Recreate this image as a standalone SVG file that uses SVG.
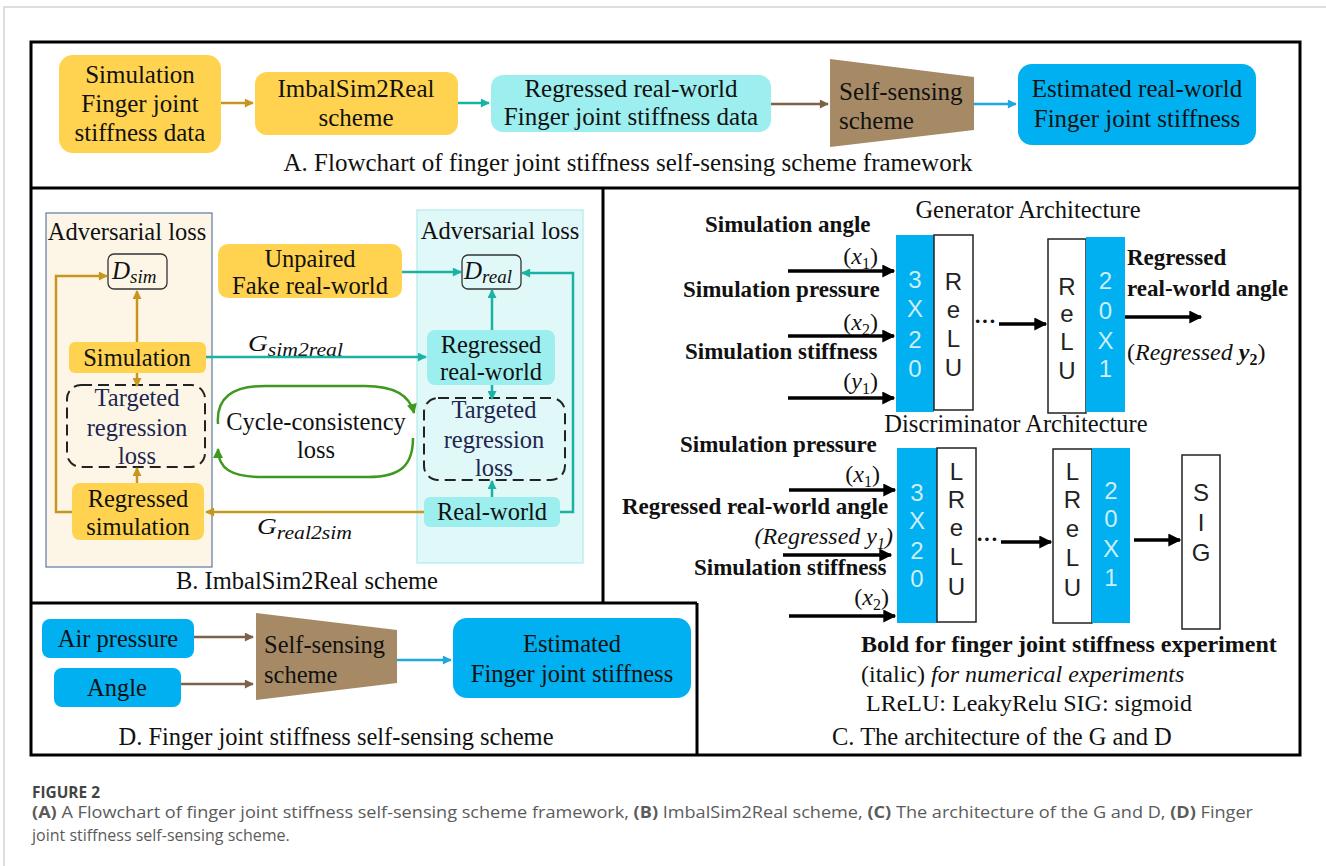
<svg xmlns="http://www.w3.org/2000/svg" width="1326" height="866" viewBox="0 0 1326 866" font-family="'Liberation Serif','Times New Roman',serif">
<defs>
<style>
text{font-family:"Liberation Serif","Times New Roman",serif;fill:#111}
.a{font-size:25px}
.b{font-size:24.5px}
.c{font-size:23px;font-weight:bold}
.it{font-style:italic}
.mid{text-anchor:middle}
.end{text-anchor:end}
.yel{fill:#FFD34F}
.cyl{fill:#9CEFEE}
.blu{fill:#00B0F0}
.brn{fill:#A68A65}
.frame{fill:none;stroke:#000;stroke-width:3}
.gold{stroke:#C8961E;stroke-width:2.5;fill:none}
.teal{stroke:#1AB3A3;stroke-width:2.5;fill:none}
.brw{stroke:#7B6249;stroke-width:2.5;fill:none}
.bl{stroke:#1EA8DF;stroke-width:2.5;fill:none}
.grn{stroke:#3E9A1F;stroke-width:2.5;fill:none}
.blk{stroke:#000;stroke-width:3.5;fill:none}
.dash{fill:none;stroke:#222;stroke-width:2;stroke-dasharray:11 6}
.navy{fill:#1E2650}
.vch{font-family:"Liberation Sans",Arial,sans-serif;font-size:24px;fill:#CDEEFB;text-anchor:middle}
.vbk{font-family:"Liberation Sans",Arial,sans-serif;font-size:24px;fill:#222;text-anchor:middle}
.wbox{fill:#fff;stroke:#222;stroke-width:1.5}
.dbox{fill:none;stroke:#333;stroke-width:1.3}
.cap{font-family:"Open Sans","Noto Sans",sans-serif;fill:#5b5b5b;font-size:16px}
</style>
<marker id="mg" viewBox="0 0 10 10" refX="9" refY="5" markerWidth="10" markerHeight="9" orient="auto" markerUnits="userSpaceOnUse"><path d="M0,0 L10,5 L0,10 z" fill="#C8961E"/></marker>
<marker id="mt" viewBox="0 0 10 10" refX="9" refY="5" markerWidth="10" markerHeight="9" orient="auto" markerUnits="userSpaceOnUse"><path d="M0,0 L10,5 L0,10 z" fill="#1AB3A3"/></marker>
<marker id="mb" viewBox="0 0 10 10" refX="9" refY="5" markerWidth="10" markerHeight="9" orient="auto" markerUnits="userSpaceOnUse"><path d="M0,0 L10,5 L0,10 z" fill="#7B6249"/></marker>
<marker id="ml" viewBox="0 0 10 10" refX="9" refY="5" markerWidth="10" markerHeight="9" orient="auto" markerUnits="userSpaceOnUse"><path d="M0,0 L10,5 L0,10 z" fill="#1EA8DF"/></marker>
<marker id="mgr" viewBox="0 0 10 10" refX="9" refY="5" markerWidth="11" markerHeight="10" orient="auto" markerUnits="userSpaceOnUse"><path d="M0,0 L10,5 L0,10 z" fill="#3E9A1F"/></marker>
<marker id="mk" viewBox="0 0 10 10" refX="9" refY="5" markerWidth="14" markerHeight="13" orient="auto" markerUnits="userSpaceOnUse"><path d="M0,0 L10,5 L0,10 z" fill="#000"/></marker>
</defs>

<rect width="1326" height="866" fill="#fff"/>
<path d="M4,866 V7 H1326" fill="none" stroke="#d4d4d4" stroke-width="1.5"/>

<g id="frames">
<rect class="frame" x="31" y="42" width="1269" height="713"/>
<line class="frame" x1="31" y1="188" x2="1300" y2="188"/>
<line class="frame" x1="603" y1="188" x2="603" y2="603"/>
<line class="frame" x1="31" y1="603" x2="697" y2="603"/>
<line class="frame" x1="697" y1="603" x2="697" y2="755"/>
</g>

<!-- Section A -->
<g id="a-sim">
<rect class="yel" x="59" y="55" width="162" height="98" rx="14"/>
<text class="a mid" x="140" y="83">Simulation</text>
<text class="a mid" x="140" y="112">Finger joint</text>
<text class="a mid" x="140" y="141">stiffness data</text>
</g>
<g id="a-imbal">
<rect class="yel" x="255" y="72" width="203" height="63" rx="12"/>
<text class="a mid" x="356" y="97">ImbalSim2Real</text>
<text class="a mid" x="356" y="126">scheme</text>
</g>
<g id="a-regressed">
<rect class="cyl" x="491" y="75" width="280" height="57" rx="12"/>
<text class="a mid" x="631" y="97">Regressed real-world</text>
<text class="a mid" x="631" y="125">Finger joint stiffness data</text>
</g>
<g id="a-selfsensing">
<polygon class="brn" points="830,59 974,77 974,130 830,147"/>
<text class="a" x="839" y="100">Self-sensing</text>
<text class="a" x="839" y="129">scheme</text>
</g>
<g id="a-estimated">
<rect class="blu" x="1018" y="64" width="238" height="81" rx="14"/>
<text class="a mid" x="1137" y="97">Estimated real-world</text>
<text class="a mid" x="1137" y="127">Finger joint stiffness</text>
</g>
<text class="a mid" x="628" y="171">A. Flowchart of finger joint stiffness self-sensing scheme framework</text>

<!-- Section B -->
<g id="b-left-panel">
<rect x="46" y="213" width="166" height="354" fill="#FDF6E6" stroke="#5B7BA3" stroke-width="1.2"/>
<text class="b mid" x="127" y="240">Adversarial loss</text>
</g>
<g id="b-right-panel">
<rect x="417" y="210" width="166" height="353" fill="#E1F8F8" stroke="#B0ECEC" stroke-width="1.2"/>
<text class="b mid" x="500" y="239">Adversarial loss</text>
</g>
<g id="b-dsim">
<rect class="dbox" x="108" y="254" width="59" height="35" rx="6"/>
<text x="112" y="279" font-size="25" class="it">D<tspan font-size="19" dy="4">sim</tspan></text>
</g>
<g id="b-simulation">
<rect class="yel" x="69" y="342" width="137" height="31" rx="6"/>
<text class="b mid" x="137" y="366">Simulation</text>
</g>
<g id="b-trl-left">
<rect class="dash" x="67" y="385" width="138" height="82" rx="14"/>
<text class="b mid navy" x="137" y="406">Targeted</text>
<text class="b mid navy" x="137" y="436">regression</text>
<text class="b mid navy" x="137" y="464">loss</text>
</g>
<g id="b-regsim">
<rect class="yel" x="72" y="483" width="132" height="57" rx="8"/>
<text class="b mid" x="138" y="507">Regressed</text>
<text class="b mid" x="138" y="535">simulation</text>
</g>
<g id="b-unpaired">
<rect class="yel" x="218" y="244" width="184" height="54" rx="10"/>
<text class="b mid" x="310" y="267">Unpaired</text>
<text class="b mid" x="310" y="294">Fake real-world</text>
</g>
<g id="b-dreal">
<rect class="dbox" x="462" y="255" width="59" height="34" rx="6"/>
<text x="464" y="279" font-size="25" class="it">D<tspan font-size="19" dy="4">real</tspan></text>
</g>
<g id="b-regreal">
<rect class="cyl" x="427" y="330" width="128" height="55" rx="8"/>
<text class="b mid" x="491" y="353">Regressed</text>
<text class="b mid" x="491" y="380">real-world</text>
</g>
<g id="b-trl-right">
<rect class="dash" x="424" y="398" width="141" height="82" rx="14"/>
<text class="b mid navy" x="494" y="418">Targeted</text>
<text class="b mid navy" x="494" y="448">regression</text>
<text class="b mid navy" x="494" y="476">loss</text>
</g>
<g id="b-real">
<rect class="cyl" x="424" y="497" width="136" height="30" rx="6"/>
<text class="b mid" x="492" y="520">Real-world</text>
</g>
<g id="b-cycle">
<text class="b mid" x="316" y="430">Cycle-consistency</text>
<text class="b mid" x="316" y="458">loss</text>
</g>
<text x="248" y="351" font-size="24" class="it" textLength="95" lengthAdjust="spacingAndGlyphs">G<tspan font-size="19" dy="5">sim2real</tspan></text>
<text x="257" y="534" font-size="24" class="it" textLength="95" lengthAdjust="spacingAndGlyphs">G<tspan font-size="19" dy="5">real2sim</tspan></text>
<text class="b mid" x="307" y="589">B. ImbalSim2Real  scheme</text>

<!-- Section C -->
<g id="c-gen">
<text class="b mid" x="1028" y="218">Generator Architecture</text>
<text class="c" x="705" y="232">Simulation angle</text>
<text class="end" x="878" y="264" font-size="24">(<tspan class="it">x</tspan><tspan font-size="16" dy="5">1</tspan><tspan dy="-5">)</tspan></text>
<text class="c" x="683" y="297">Simulation pressure</text>
<text class="end" x="878" y="330" font-size="24">(<tspan class="it">x</tspan><tspan font-size="16" dy="5">2</tspan><tspan dy="-5">)</tspan></text>
<text class="c" x="685" y="359">Simulation stiffness</text>
<text class="end" x="878" y="389" font-size="24">(<tspan class="it">y</tspan><tspan font-size="16" dy="5">1</tspan><tspan dy="-5">)</tspan></text>
<rect class="blu" x="896" y="235" width="38" height="177"/>
<text class="vch"><tspan x="915" y="288">3</tspan><tspan x="915" y="317">X</tspan><tspan x="915" y="348">2</tspan><tspan x="915" y="377">0</tspan></text>
<rect class="wbox" x="934" y="235" width="39" height="175"/>
<text class="vbk"><tspan x="953.5" y="290">R</tspan><tspan x="953.5" y="318">e</tspan><tspan x="953.5" y="347">L</tspan><tspan x="953.5" y="376">U</tspan></text>
<text x="974" y="328" font-size="22" font-weight="bold">···</text>
<rect class="wbox" x="1048" y="239" width="38" height="174"/>
<text class="vbk"><tspan x="1067" y="295">R</tspan><tspan x="1067" y="322">e</tspan><tspan x="1067" y="350">L</tspan><tspan x="1067" y="379">U</tspan></text>
<rect class="blu" x="1086" y="237" width="39" height="175"/>
<text class="vch"><tspan x="1105.5" y="289">2</tspan><tspan x="1105.5" y="319">0</tspan><tspan x="1105.5" y="349">X</tspan><tspan x="1105.5" y="377">1</tspan></text>
<text class="c" x="1127" y="265">Regressed</text>
<text class="c" x="1127" y="296">real-world angle</text>
<text x="1127" y="360" font-size="24">(<tspan class="it">Regressed </tspan><tspan class="it" font-weight="bold">y</tspan><tspan font-size="16" font-weight="bold" dy="5">2</tspan><tspan dy="-5">)</tspan></text>
</g>
<g id="c-disc">
<text class="b mid" x="1016" y="432">Discriminator Architecture</text>
<text class="c" x="680" y="452">Simulation pressure</text>
<text class="end" x="880" y="482" font-size="24">(<tspan class="it">x</tspan><tspan font-size="16" dy="5">1</tspan><tspan dy="-5">)</tspan></text>
<text class="c" x="622" y="514">Regressed real-world angle</text>
<text class="end it" x="893" y="544" font-size="24">(Regressed  y<tspan font-size="16" dy="5">1</tspan><tspan dy="-5">)</tspan></text>
<text class="c" x="694" y="575">Simulation stiffness</text>
<text class="end" x="889" y="605" font-size="24">(<tspan class="it">x</tspan><tspan font-size="16" dy="5">2</tspan><tspan dy="-5">)</tspan></text>
<rect class="blu" x="897" y="448" width="40" height="175"/>
<text class="vch"><tspan x="917" y="501">3</tspan><tspan x="917" y="529">X</tspan><tspan x="917" y="559">2</tspan><tspan x="917" y="587">0</tspan></text>
<rect class="wbox" x="937" y="448" width="39" height="174"/>
<text class="vbk"><tspan x="956.5" y="480">L</tspan><tspan x="956.5" y="508">R</tspan><tspan x="956.5" y="536">e</tspan><tspan x="956.5" y="565">L</tspan><tspan x="956.5" y="595">U</tspan></text>
<text x="976" y="546" font-size="22" font-weight="bold">···</text>
<rect class="wbox" x="1053" y="449" width="39" height="174"/>
<text class="vbk"><tspan x="1072.5" y="480">L</tspan><tspan x="1072.5" y="508">R</tspan><tspan x="1072.5" y="537">e</tspan><tspan x="1072.5" y="566">L</tspan><tspan x="1072.5" y="596">U</tspan></text>
<rect class="blu" x="1092" y="448" width="38" height="175"/>
<text class="vch"><tspan x="1111" y="499">2</tspan><tspan x="1111" y="527">0</tspan><tspan x="1111" y="557">X</tspan><tspan x="1111" y="586">1</tspan></text>
<rect class="wbox" x="1182" y="455" width="38" height="174"/>
<text class="vbk"><tspan x="1201" y="501">S</tspan><tspan x="1201" y="531">I</tspan><tspan x="1201" y="561">G</tspan></text>
</g>
<g id="c-notes">
<text x="861" y="652" font-size="24" font-weight="bold">Bold for finger joint stiffness  experiment</text>
<text x="861" y="682" font-size="24">(italic)  <tspan class="it">for numerical experiments</tspan></text>
<text x="866" y="711" font-size="24">LReLU: LeakyRelu  SIG: sigmoid</text>
<text class="b" x="832" y="745">C. The architecture of the G and D</text>
</g>

<!-- Section D -->
<g id="d-air">
<rect class="blu" x="42" y="619" width="152" height="39" rx="8"/>
<text class="b mid" x="118" y="647">Air pressure</text>
</g>
<g id="d-angle">
<rect class="blu" x="54" y="668" width="127" height="39" rx="8"/>
<text class="b mid" x="117" y="696">Angle</text>
</g>
<g id="d-selfsensing">
<polygon class="brn" points="256,613 397,630 397,683 256,700"/>
<text class="b" x="264" y="653">Self-sensing</text>
<text class="b" x="264" y="683">scheme</text>
</g>
<g id="d-estimated">
<rect class="blu" x="453" y="618" width="238" height="80" rx="14"/>
<text class="b mid" x="572" y="652">Estimated</text>
<text class="b mid" x="572" y="682">Finger joint stiffness</text>
</g>
<text class="b mid" x="336" y="745">D. Finger joint stiffness self-sensing scheme</text>

<!-- connectors -->
<g id="connectors">
<line class="gold" x1="221" y1="103" x2="253" y2="103" marker-end="url(#mg)"/>
<line class="teal" x1="458" y1="103" x2="489" y2="103" marker-end="url(#mt)"/>
<line class="brw" x1="771" y1="104" x2="828" y2="104" marker-end="url(#mb)"/>
<line class="bl" x1="974" y1="104" x2="1016" y2="104" marker-end="url(#ml)"/>

<line class="gold" x1="137" y1="342" x2="137" y2="291" marker-end="url(#mg)"/>
<line class="gold" x1="137" y1="373" x2="137" y2="386" marker-end="url(#mg)"/>
<line class="gold" x1="137" y1="483" x2="137" y2="468" marker-end="url(#mg)"/>
<polyline class="gold" points="72,512 56,512 56,276 107,276" marker-end="url(#mg)"/>
<line class="gold" x1="424" y1="512" x2="206" y2="512" marker-end="url(#mg)"/>

<line class="teal" x1="206" y1="357" x2="426" y2="357" marker-end="url(#mt)"/>
<line class="teal" x1="402" y1="272" x2="461" y2="272" marker-end="url(#mt)"/>
<line class="teal" x1="492" y1="330" x2="492" y2="290" marker-end="url(#mt)"/>
<line class="teal" x1="492" y1="385" x2="492" y2="399" marker-end="url(#mt)"/>
<line class="teal" x1="492" y1="497" x2="492" y2="481" marker-end="url(#mt)"/>
<polyline class="teal" points="560,512 573,512 573,273 522,273" marker-end="url(#mt)"/>

<path class="grn" d="M218,424 C216,398 232,386 265,386 L365,386 C395,386 410,396 414,413" marker-end="url(#mgr)"/>
<path class="grn" d="M413,438 C413,466 400,477 368,477 L262,477 C232,477 218,469 218,449" marker-end="url(#mgr)"/>

<line class="blk" x1="788" y1="271" x2="894" y2="271" marker-end="url(#mk)"/>
<line class="blk" x1="788" y1="336" x2="894" y2="336" marker-end="url(#mk)"/>
<line class="blk" x1="788" y1="398" x2="894" y2="398" marker-end="url(#mk)"/>
<line class="blk" x1="999" y1="324" x2="1046" y2="324" marker-end="url(#mk)"/>
<line class="blk" x1="1125" y1="317" x2="1201" y2="317" marker-end="url(#mk)"/>

<line class="blk" x1="789" y1="490" x2="895" y2="490" marker-end="url(#mk)"/>
<line class="blk" x1="783" y1="555" x2="891" y2="555" marker-end="url(#mk)"/>
<line class="blk" x1="789" y1="616" x2="895" y2="616" marker-end="url(#mk)"/>
<line class="blk" x1="1001" y1="542" x2="1051" y2="542" marker-end="url(#mk)"/>
<line class="blk" x1="1134" y1="540" x2="1180" y2="540" marker-end="url(#mk)"/>

<line class="brw" x1="194" y1="637" x2="253" y2="637" marker-end="url(#mb)"/>
<line class="brw" x1="181" y1="684" x2="253" y2="684" marker-end="url(#mb)"/>
<line class="bl" x1="397" y1="660" x2="451" y2="660" marker-end="url(#ml)"/>
</g>

<g id="caption">
<text class="cap" x="32" y="798" font-size="13.5" font-weight="bold" textLength="68" lengthAdjust="spacingAndGlyphs" style="fill:#444">FIGURE 2</text>
<text class="cap" x="32" y="818" textLength="1221" lengthAdjust="spacingAndGlyphs"><tspan font-weight="bold">(A)</tspan> A Flowchart of finger joint stiffness self-sensing scheme framework, <tspan font-weight="bold">(B)</tspan> ImbalSim2Real scheme, <tspan font-weight="bold">(C)</tspan> The architecture of the G and D, <tspan font-weight="bold">(D)</tspan> Finger</text>
<text class="cap" x="32" y="841">joint stiffness self-sensing scheme.</text>
</g>
</svg>
